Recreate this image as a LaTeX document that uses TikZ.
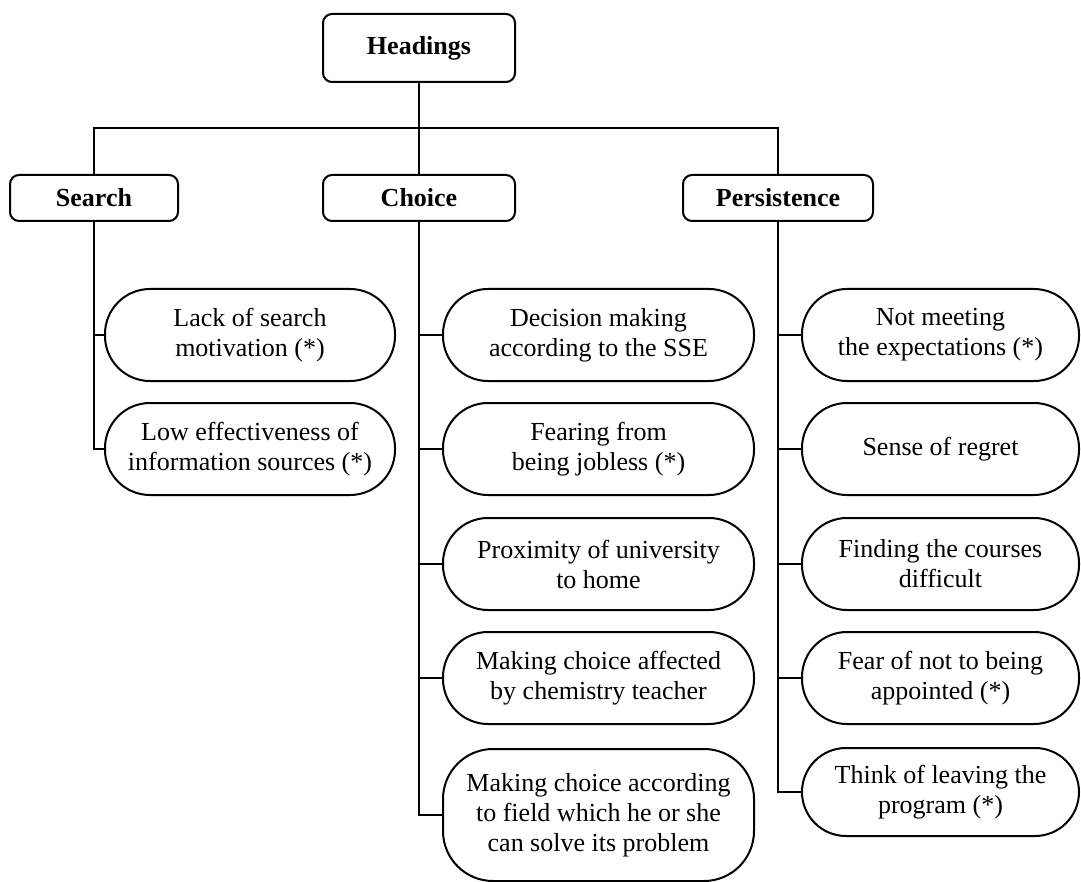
\documentclass[tikz,border=0pt]{standalone}
\usepackage{fontspec}
\setmainfont{Liberation Serif}
\begin{document}
\begin{tikzpicture}[x=1pt,y=-1pt,
  every node/.style={font=\fontsize{26}{30}\selectfont},
  headbox/.style={draw,line width=2pt,rounded corners=9pt,font=\fontsize{26}{30}\selectfont\bfseries,inner sep=0pt},
  leaf/.style={draw,line width=2pt,rounded corners=45pt,align=center,inner sep=0pt},
  conn/.style={line width=2pt}]
\useasboundingbox (0,0) rectangle (1081,882);
% top
\node[headbox,minimum width=192pt,minimum height=68pt] (head) at (419,48) {Headings};
\node[headbox,minimum width=168pt,minimum height=46pt] (search) at (94,198) {Search};
\node[headbox,minimum width=192pt,minimum height=46pt] (choice) at (419,198) {Choice};
\node[headbox,minimum width=190pt,minimum height=46pt] (pers) at (778,198) {Persistence};
\coordinate (j) at (419,128);
\draw[conn] (head.south) -- (choice.north);
\draw[conn] (search.north) |- (j) -| (pers.north);
% search leaves
\node[leaf,minimum width=290pt,minimum height=92pt] (s1) at (250,335) {Lack of search\\motivation (*)};
\node[leaf,minimum width=290pt,minimum height=92pt] (s2) at (250,449) {Low effectiveness of\\information sources (*)};
% choice leaves
\node[leaf,minimum width=311pt,minimum height=92pt] (c1) at (598.5,335) {Decision making\\according to the SSE};
\node[leaf,minimum width=311pt,minimum height=92pt] (c2) at (598.5,449) {Fearing from\\being jobless (*)};
\node[leaf,minimum width=311pt,minimum height=92pt] (c3) at (598.5,564) {Proximity of university\\to home};
\node[leaf,minimum width=311pt,minimum height=92pt] (c4) at (598.5,678) {Making choice affected\\by chemistry teacher};
\node[leaf,minimum width=311pt,minimum height=132pt,rounded corners=50pt] (c5) at (598.5,815) {Making choice according\\to field which he or she\\can solve its problem};
% persistence leaves
\node[leaf,minimum width=277pt,minimum height=92pt] (p1) at (940.5,335) {Not meeting\\the expectations (*)};
\node[leaf,minimum width=277pt,minimum height=92pt] (p2) at (940.5,449) {Sense of regret};
\node[leaf,minimum width=277pt,minimum height=92pt] (p3) at (940.5,564) {Finding the courses\\difficult};
\node[leaf,minimum width=277pt,minimum height=92pt] (p4) at (940.5,678) {Fear of not to being\\appointed (*)};
\node[leaf,minimum width=277pt,minimum height=88pt,rounded corners=44pt] (p5) at (940.5,792) {Think of leaving the\\program (*)};
% connectors
\foreach \n in {s1,s2} \draw[conn] (search.south) |- (\n.west);
\foreach \n in {c1,c2,c3,c4,c5} \draw[conn] (choice.south) |- (\n.west);
\foreach \n in {p1,p2,p3,p4,p5} \draw[conn] (pers.south) |- (\n.west);
\end{tikzpicture}
\end{document}
